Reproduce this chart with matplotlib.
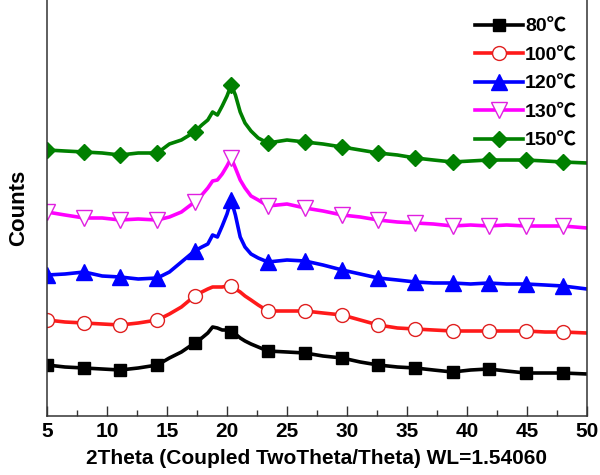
import matplotlib
matplotlib.use("Agg")
import matplotlib.pyplot as plt
from matplotlib.ticker import MultipleLocator, NullLocator

# 2Theta grid (degrees)
two_theta = [5.0, 6.5, 8.1, 9.6, 11.1, 12.6, 14.2, 15.2, 16.2, 17.3, 17.9, 18.4, 18.8,
             19.2, 19.6, 20.0, 20.35, 20.7, 21.1, 21.5, 22.0, 22.6, 23.4, 25.0, 26.5,
             28.0, 29.6, 31.1, 32.6, 34.2, 35.7, 37.2, 38.8, 40.3, 41.8, 43.3, 44.9,
             46.5, 48.0, 50.0]

# marker positions (degrees)
marker_theta = [5.0, 8.1, 11.1, 14.2, 17.3, 20.35, 23.4, 26.5, 29.6, 32.6, 35.7,
                38.8, 41.8, 44.9, 48.0]

# offset intensities (arbitrary counts)
counts_80 = [51, 49, 48, 47, 46, 48, 51, 58, 64, 73, 78, 83, 89, 88, 86, 86, 84, 82, 78, 75,
             72, 69, 65, 64, 63, 60, 58, 54, 51, 49, 48, 46, 44, 46, 47, 45, 43, 43, 43, 42]
counts_100 = [96, 94, 93, 92, 91, 93, 96, 102, 109, 120, 124, 127, 129, 129, 129, 130, 130,
              127, 124, 120, 116, 111, 105, 105, 105, 103, 101, 96, 91, 88, 87, 86, 85, 85,
              85, 85, 85, 84, 84, 83]
counts_120 = [141, 142, 144, 140, 139, 137, 138, 144, 154, 165, 169, 172, 181, 179, 190, 202,
              216, 201, 179, 169, 162, 158, 154, 156, 155, 151, 146, 142, 138, 136, 134, 133,
              133, 132, 133, 132, 132, 131, 130, 127]
counts_130 = [204, 201, 198, 198, 196, 197, 196, 199, 204, 214, 221, 228, 235, 236, 242, 250,
              258, 248, 236, 228, 220, 216, 210, 212, 208, 205, 201, 199, 196, 194, 193, 192,
              190, 191, 190, 191, 190, 190, 190, 188]
counts_150 = [266, 265, 264, 263, 261, 263, 263, 272, 276, 284, 291, 296, 304, 301, 310, 320,
              331, 321, 304, 293, 285, 278, 273, 276, 274, 272, 269, 266, 263, 261, 258, 256,
              254, 255, 256, 256, 256, 255, 254, 253]

labels = ["80\u2103", "100\u2103", "120\u2103", "130\u2103", "150\u2103"]
x_ticks = [5, 10, 15, 20, 25, 30, 35, 40, 45, 50]

plt.rcParams['font.family'] = ['Liberation Sans', 'DejaVu Sans']

fig = plt.figure(figsize=(6.0, 4.75), dpi=100)
ax = fig.add_axes([47/600, 1 - 416/475, 540/600, 416/475])

series = [counts_80, counts_100, counts_120, counts_130, counts_150]
styles = [
    dict(color='black', marker='s', ms=8.5, mfc='black', mec='black'),
    dict(color='#ff1a1a', marker='o', ms=10, mfc='white', mec='#e02020'),
    dict(color='#0000ff', marker='^', ms=11, mfc='#0000ff', mec='#0000ff'),
    dict(color='#ff00ff', marker='v', ms=11, mfc='white', mec='#e020e0'),
    dict(color='#008000', marker='D', ms=8.5, mfc='#008000', mec='#008000'),
]
mark_idx = [two_theta.index(m) for m in marker_theta]
for y, lab, st in zip(series, labels, styles):
    ax.plot(two_theta, y, lw=2.6, markevery=mark_idx, mew=1.0, label=lab, **st)

ax.set_xlim(5, 50)
ax.set_ylim(0, 416)
ax.set_xticks(x_ticks)
ax.xaxis.set_minor_locator(MultipleLocator(2.5))
ax.yaxis.set_major_locator(NullLocator())
ax.tick_params(axis='x', which='major', direction='in', length=7, width=1.0,
               labelsize=15, pad=4, color='#333333')
ax.tick_params(axis='x', which='minor', direction='in', length=4, width=1.0, color='#333333')
for t in ax.get_xticklabels():
    t.set_fontweight('bold')
for s in ['left', 'right', 'bottom']:
    ax.spines[s].set_color('#333333')
    ax.spines[s].set_linewidth(1.1)
ax.spines['top'].set_visible(False)

ax.set_xlabel("2Theta (Coupled TwoTheta/Theta) WL=1.54060", fontsize=15,
              fontweight='bold', labelpad=6)
ax.set_ylabel("Counts", fontsize=16, fontweight='bold', labelpad=13)

leg = ax.legend(loc='upper left', bbox_to_anchor=(475/600, 1 - 18/475),
                bbox_transform=fig.transFigure, frameon=False, borderpad=0,
                borderaxespad=0, handlelength=2.45, handletextpad=0.12,
                labelspacing=0.56,
                prop=dict(family=['Liberation Sans', 'Noto Sans CJK SC'], weight='bold', size=14))

fig.savefig('out.png', dpi=100)
